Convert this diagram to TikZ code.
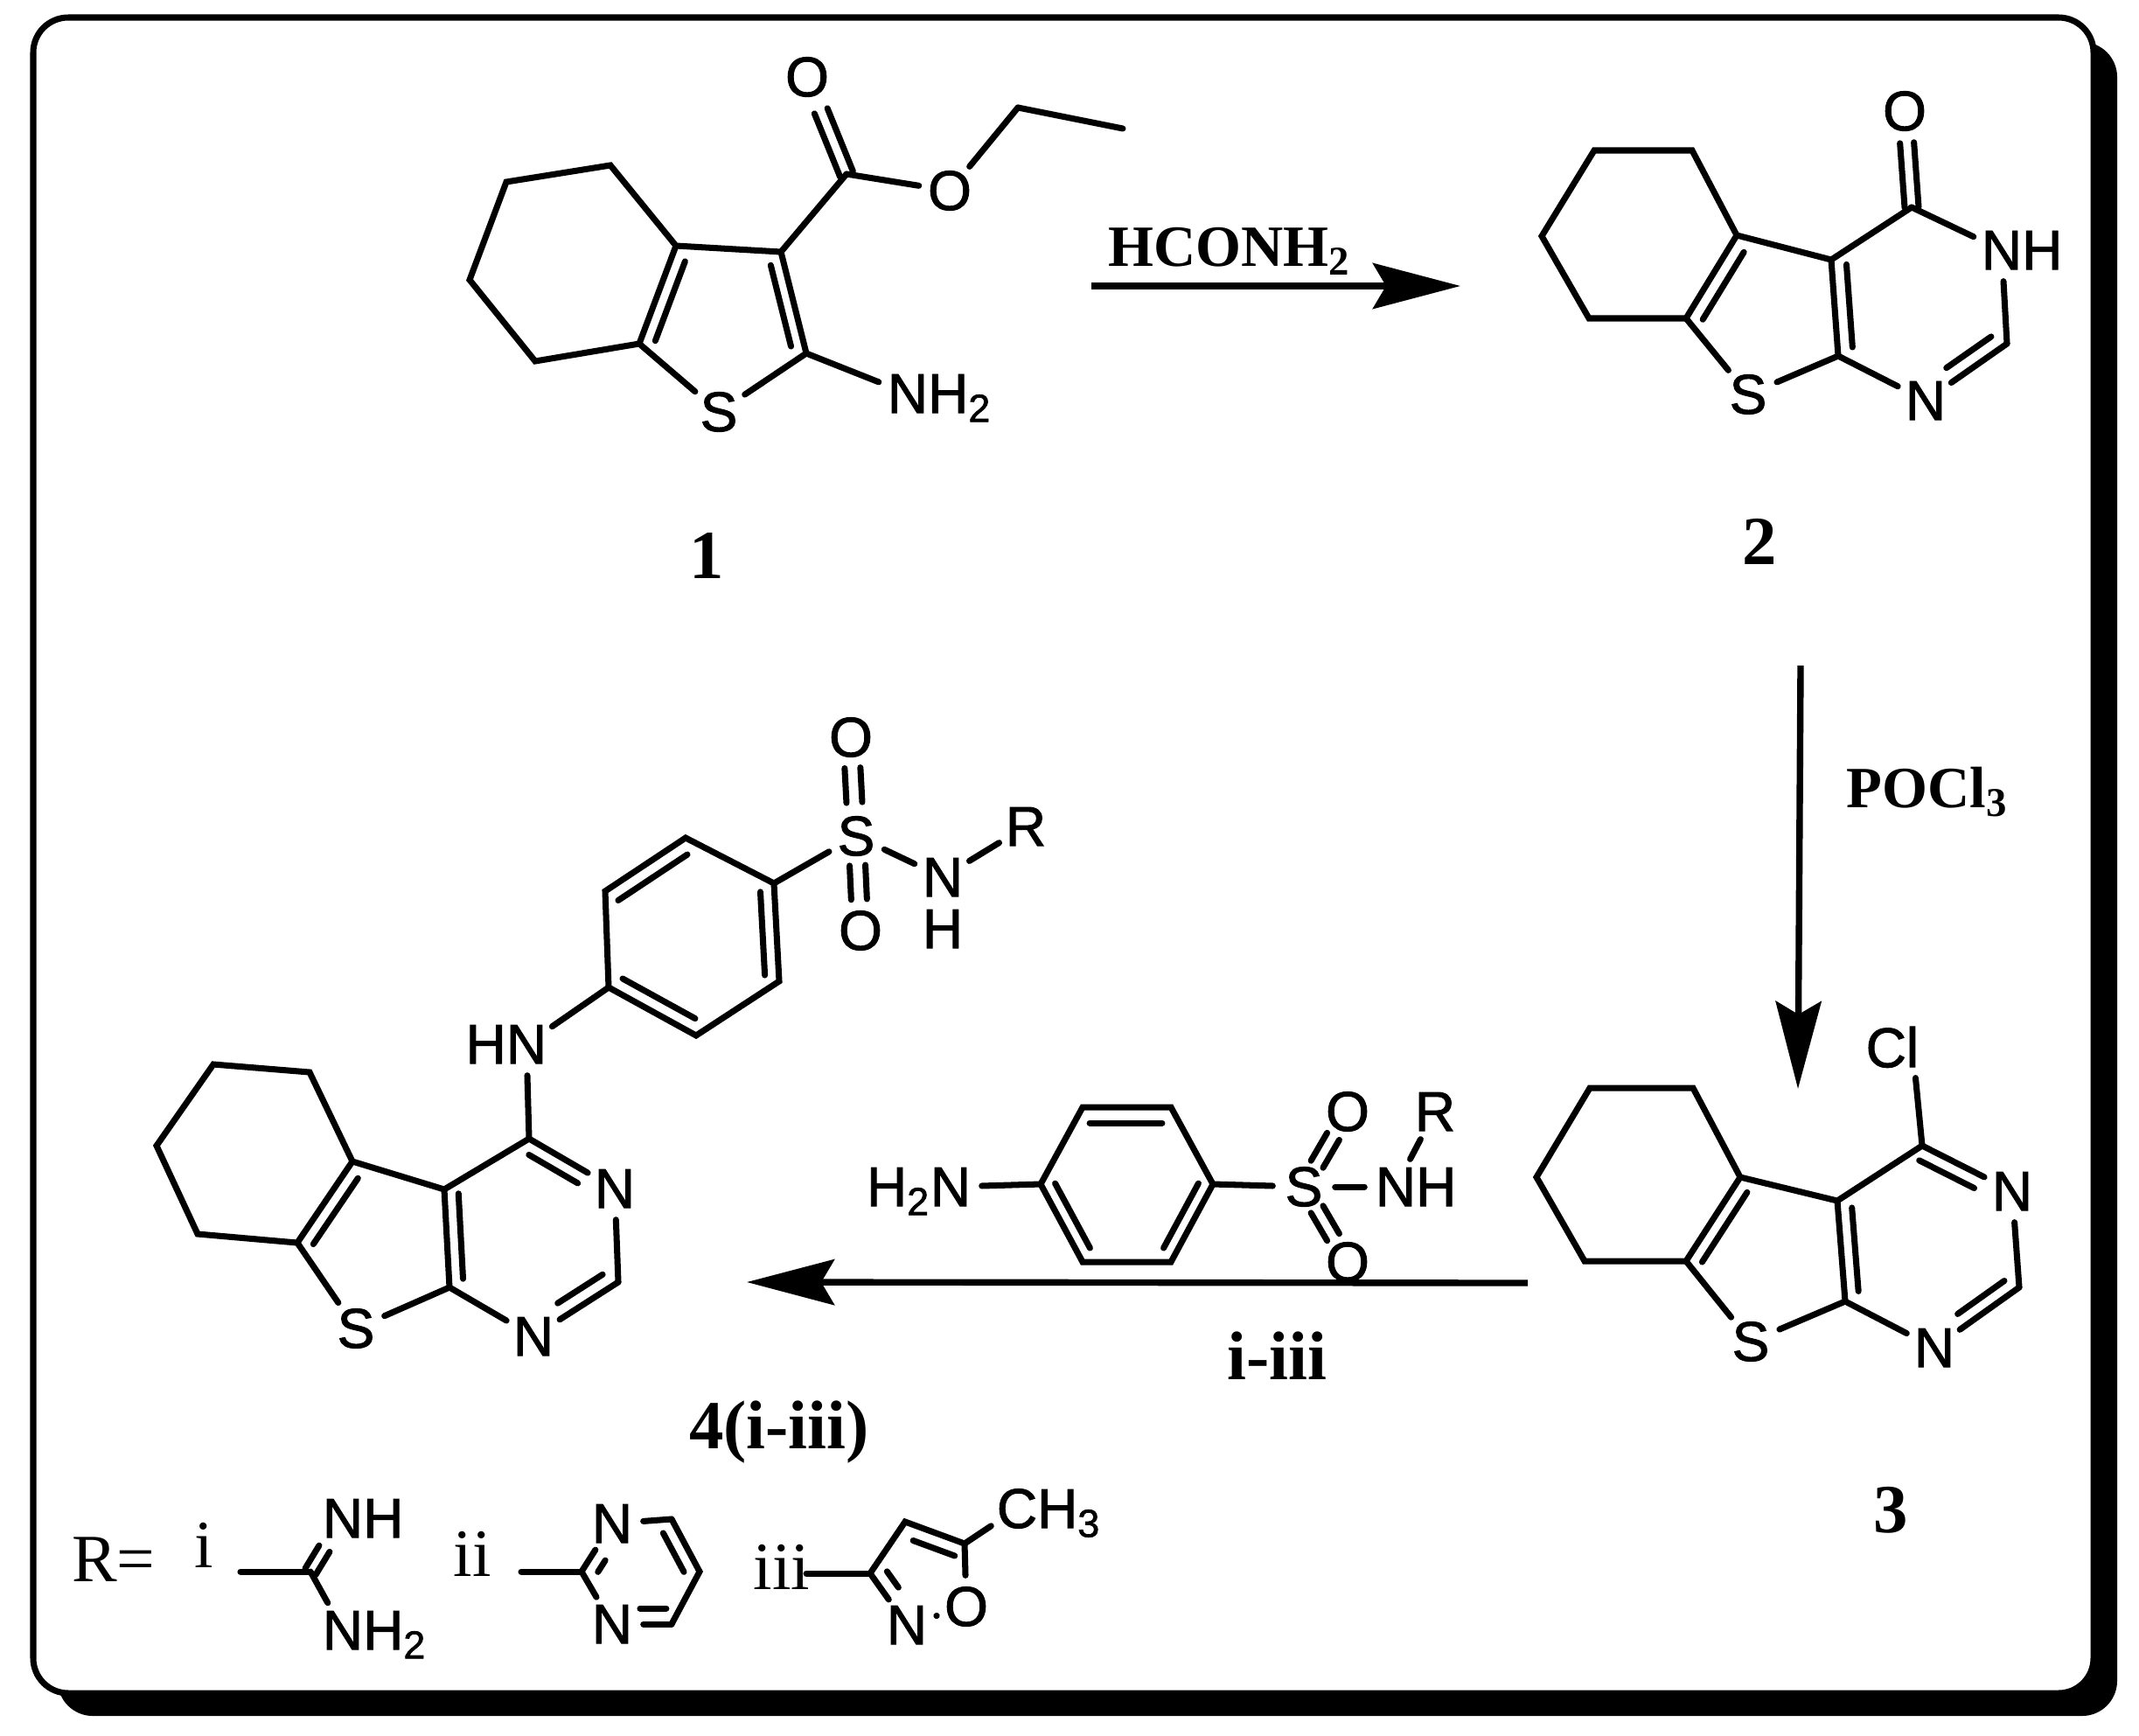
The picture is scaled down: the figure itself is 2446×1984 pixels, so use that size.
\documentclass[tikz,border=0pt]{standalone}
\usepackage{fontspec}
\setmainfont{Liberation Serif}
\newfontfamily\atomfamily[FakeBold=1.5]{Liberation Sans}
\usetikzlibrary{arrows.meta, calc}

\newcommand{\tailr}[1]{\smash{\rlap{#1}}}
\newcommand{\headl}[1]{\smash{\llap{#1}}}

\tikzset{
  bond/.style={line width=2pt, line cap=round},
  atom/.style={circle, inner sep=0pt, minimum size=0.7cm, font=\atomfamily\fontsize{18.2}{20}\selectfont},
  reagent/.style={anchor=base, inner sep=0pt, font=\bfseries\fontsize{19}{22}\selectfont},
  cmpd/.style={anchor=base, inner sep=0pt, font=\bfseries\fontsize{22.4}{24}\selectfont},
  plain/.style={anchor=base, inner sep=0pt, font=\fontsize{22}{24}\selectfont},
  rxn/.style={line width=2.1pt, -{Stealth[length=1cm, width=0.52cm, inset=0.15cm]}}
}

\begin{document}
\begin{tikzpicture}[x=0.01cm, y=-0.01cm]
      \useasboundingbox (0,0) rectangle (2446,1984);
      \fill[white] (0,0) rectangle (2446,1984);

      % Frame with its shadow
      \fill[black, rounded corners=0.4cm] (66,48) rectangle (2421,1962);
      \draw[line width=2pt, fill=white, rounded corners=0.4cm] (38,20) rectangle (2394,1936);

      % Ring vertices
      \foreach \n/\x/\y in {1a/579/208, 1b/698/189, 1c/773/281, 1d/893/288, 1e/922/404, 1f/731/393, 1g/612/413, 1h/537/320, 1i/968/199, 1j/1164/123, 1k/1284/147,
          2a/1823/172, 2b/1935/172, 2c/1986/269, 2d/2094/297, 2e/2102/407, 2f/1928/364, 2g/1817/364, 2h/1763/270, 2i/2186/237, 2j/2295/393,
          3a/1818/1244, 3b/1936/1244, 3c/1990/1346, 3d/2101/1373, 3e/2110/1488, 3f/1928/1442, 3g/1812/1442, 3h/1757/1346, 3i/2198/1310, 3j/2309/1472,
          4a/244/1217, 4b/354/1226, 4c/403/1328, 4d/508/1360, 4e/514/1472, 4f/340/1421, 4g/226/1411, 4h/179/1310, 4i/605/1302, 4j/707/1466,
          4p/696/1129, 4q/692/1019, 4r/784/958, 4s/885/1010, 4t/891/1122, 4u/796/1184,
          5a/1190/1354, 5b/1238/1266, 5c/1339/1266, 5d/1387/1354, 5e/1339/1443, 5f/1238/1443,
          ia/275/1797, ib/355/1797, iia/596/1797, iib/665/1797, iic/768/1737, iid/800/1797, iie/768/1857,
          iiia/922/1799, iiib/995/1799, iiic/1035/1740, iiid/1103/1765} {
          \coordinate (\n) at (\x,\y);
      }

      % Atom labels
      \foreach \n/\x/\y/\lbl in {1O/923/88/O, 1P/1086/218/O, 1S/822/471/S, 1N/1038/450/N\tailr{H\textsubscript{2}},
          2O/2178/127/O, 2N/2289/286/N\tailr{H}, 2M/2202/458/N, 2S/1999/451/S,
          3C/2187/1197/\headl{C}l, 3N/2301/1362/N, 3M/2212/1541/N, 3S/2002/1534/S,
          4H/602/1194/\headl{H}N, 4N/703/1359/N, 4M/610/1528/N, 4S/407/1519/S,
          4T/979/956/S, 4O/973/843/O, 4P/984/1064/O, 4A/1078/1003/N, 4R/1173/945/R,
          5N/1087/1357/\headl{H\textsubscript{2}}N, 5S/1491/1357/S, 5O/1541/1271/O, 5P/1541/1443/O, 5A/1596/1357/N\tailr{H}, 5R/1641/1271/R,
          iN/392/1736/N\tailr{H}, iM/392/1864/N\tailr{H\textsubscript{2}},
          iiN/700/1742/N, iiM/700/1857/N,
          iiiC/1163/1725/C\tailr{H\textsubscript{3}}, iiiO/1105/1837/O, iiiN/1037/1858/N} {
          \node[atom] (\n) at (\x,\y) {\lbl};
      }
      \node[atom, minimum size=0pt] (4B) at (1078,1062) {H};

      % Single bonds
      \draw[bond] (1c) -- (1b) -- (1a) -- (1h) -- (1g) -- (1f) -- (1c) -- (1d) -- (1e);
      \draw[bond] (2c) -- (2b) -- (2a) -- (2h) -- (2g) -- (2f) -- (2c) -- (2d) -- (2e);
      \draw[bond] (3c) -- (3b) -- (3a) -- (3h) -- (3g) -- (3f) -- (3c) -- (3d) -- (3e);
      \draw[bond] (4c) -- (4b) -- (4a) -- (4h) -- (4g) -- (4f) -- (4c) -- (4d) -- (4e);
      \draw[bond] (4p) -- (4q) -- (4r) -- (4s) -- (4t) -- (4u) -- cycle;
      \draw[bond] (5a) -- (5b) -- (5c) -- (5d) -- (5e) -- (5f) -- cycle;
      \draw[bond] (iib) -- (iia);
      \draw[bond] (iic) -- (iid) -- (iie);
      \draw[bond] (iiib) -- (iiic) -- (iiid);
      \foreach \pa/\pb in {1f/1S, 1e/1S, 1e/1N, 1d/1i, 1i/1P, 1P/1j, 1j/1k,
          2f/2S, 2e/2S, 2e/2M, 2d/2i, 2i/2N, 2N/2j, 2j/2M,
          3f/3S, 3e/3S, 3e/3M, 3d/3i, 3i/3C, 3i/3N, 3N/3j, 3j/3M,
          4f/4S, 4e/4S, 4e/4M, 4d/4i, 4i/4H, 4i/4N, 4N/4j, 4j/4M, 4H/4p, 4s/4T, 4T/4A, 4A/4R,
          5N/5a, 5d/5S, 5S/5A, 5A/5R,
          ia/ib, ib/iM, iib/iiN, iib/iiM, iiN/iic, iie/iiM,
          iiia/iiib, iiib/iiiN, iiid/iiiC, iiid/iiiO, iiiN/iiiO} {
          \draw[bond] (\pa) -- (\pb);
      }

      % Second strokes of the double bonds
      \foreach \pa/\pb/\off/\ps/\pe in {1c/1f/1.6/.11/.92, 1d/1e/-1.5/.10/.90, 1i/1O/0.8/.0/.65, 1i/1O/-0.8/.0/.65,
          2c/2f/1.7/.11/.92, 2d/2e/1.7/.06/.92, 2j/2M/-1.7/.09/.64, 2i/2O/0.8/.0/.67, 2i/2O/-0.8/.0/.67,
          3c/3f/1.6/.09/.92, 3d/3e/1.6/.08/.91, 3i/3N/-1.65/.04/.65, 3j/3M/-1.6/.08/.63,
          4c/4f/1.6/.11/.92, 4d/4e/1.6/.05/.92, 4i/4N/-1.6/.08/.65, 4j/4M/-1.7/.09/.62,
          4q/4r/-1.7/.06/.92, 4s/4t/-1.6/.08/.93, 4p/4u/1.65/.08/.91,
          4T/4O/0.9/.34/.69, 4T/4O/-0.9/.34/.69, 4T/4P/0.9/.31/.67, 4T/4P/-0.9/.31/.67,
          5b/5c/-1.8/.08/.90, 5a/5f/1.5/.07/.90, 5d/5e/-1.5/.07/.90,
          5S/5O/0.8/.30/.67, 5S/5O/-0.8/.30/.67, 5S/5P/0.8/.30/.67, 5S/5P/-0.8/.30/.67,
          ib/iN/0.7/.0/.43, ib/iN/-0.7/.0/.43,
          iib/iiN/-1.6/.15/.39, iic/iid/-1.6/.14/.88, iiM/iie/1.8/.47/.91,
          iiib/iiiN/1.7/.13/.44, iiic/iiid/-1.7/.22/.92} {
          \draw[bond] ($(\pa)!\ps!(\pb)!\off mm!90:(\pb)$) -- ($(\pa)!\pe!(\pb)!\off mm!90:(\pb)$);
      }

      % Reaction arrows
      \coordinate (arrowAs) at (1248,327);
      \coordinate (arrowAe) at (1670,327);
      \coordinate (arrowBs) at (2059,761);
      \coordinate (arrowBe) at (2056,1245);
      \coordinate (arrowCs) at (1747,1467);
      \coordinate (arrowCe) at (854,1466);
      \draw[rxn] (arrowAs) -- (arrowAe);
      \draw[rxn] (arrowBs) -- (arrowBe);
      \draw[rxn] (arrowCs) -- (arrowCe);
      \node[reagent] (hconh) at (1406,304) {HCONH\textsubscript{2}};
      \node[reagent] (pocl) at (2204,923) {POCl\textsubscript{3}};
      \node[cmpd] (rlabel) at (1460,1577) {i-iii};

      % Compound numbers
      \node[cmpd] (cmpdA) at (808,661) {1};
      \node[cmpd] (cmpdB) at (2012,645) {2};
      \node[cmpd] (cmpdC) at (2162,1752) {3};
      \node[cmpd] (cmpdD) at (891,1656) {4(i-iii)};

      % R groups
      \node[plain] (rgroup) at (130,1808) {R=};
      \node[plain] (ri) at (233,1792) {i};
      \node[plain] (rii) at (540,1802) {ii};
      \node[plain] (riii) at (894,1817) {iii};
    \end{tikzpicture}
\end{document}
